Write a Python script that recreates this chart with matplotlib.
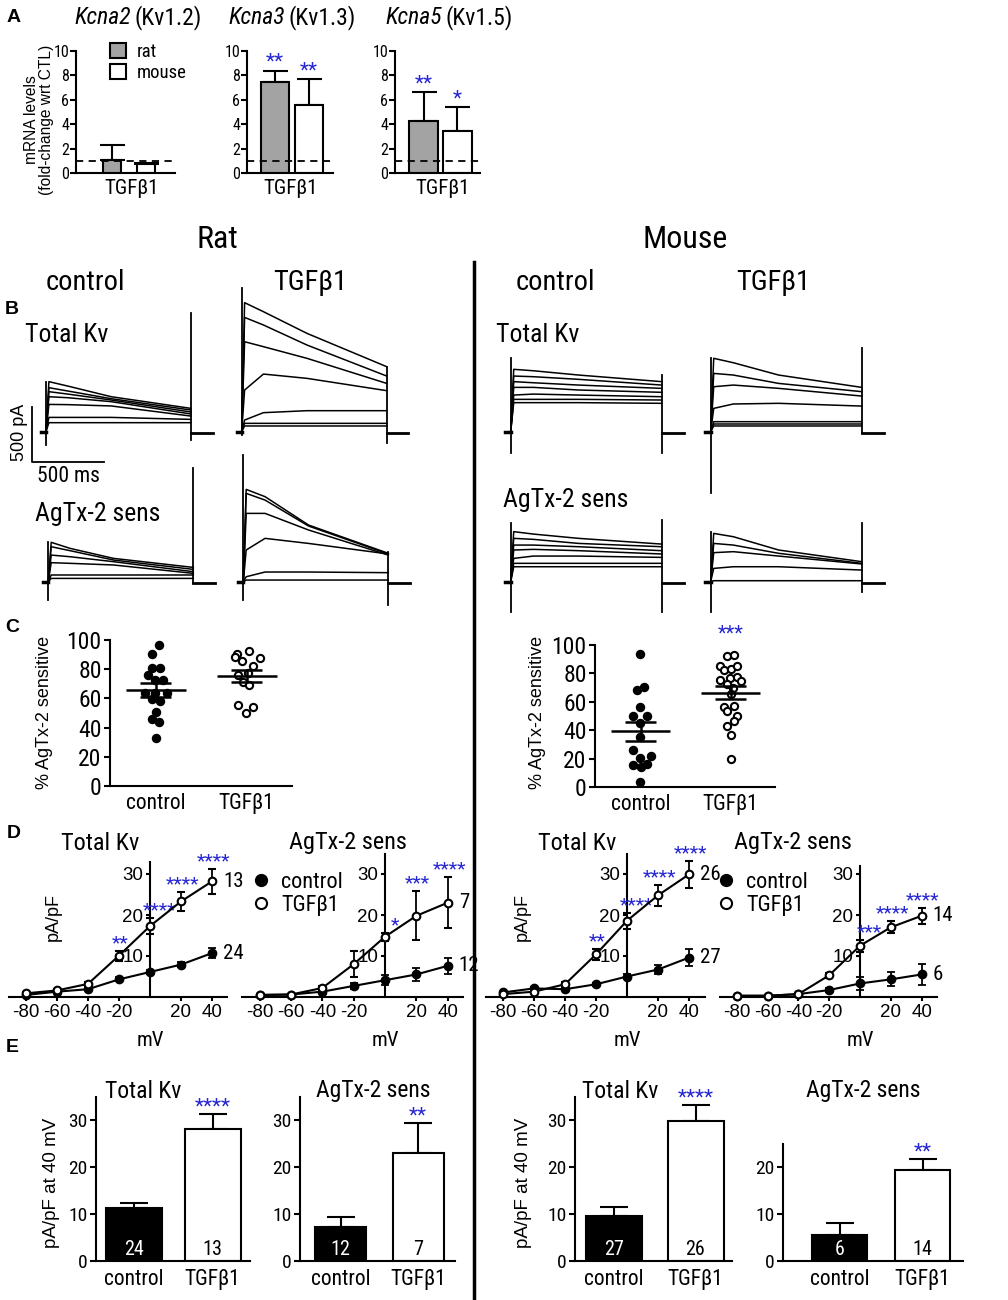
import matplotlib
matplotlib.use("Agg")
import matplotlib.pyplot as plt
from matplotlib import font_manager
from matplotlib.patches import Patch
from matplotlib.lines import Line2D


def pick_narrow():
    prefs = ['Liberation Sans Narrow', 'Arial Narrow', 'Roboto Condensed', 'Noto Sans Condensed',
             'Open Sans Condensed', 'Noto Sans', 'Roboto', 'Open Sans', 'DejaVu Sans']
    ents = font_manager.fontManager.ttflist
    for p in prefs:
        for f in ents:
            if f.name == p and f.style == 'normal':
                if 'Narrow' in p or 'Condensed' in p:
                    return p, 'normal'
                if str(f.stretch) in ('condensed', 'semi-condensed'):
                    return p, str(f.stretch)
    return None, None


REG = 'Liberation Sans'
NARROW, STRETCH = pick_narrow()
if NARROW is None:
    NARROW, STRETCH, FS = REG, 'normal', 0.87
else:
    FS = 1.0
plt.rcParams['font.family'] = [NARROW, 'DejaVu Sans']
plt.rcParams['font.stretch'] = STRETCH
plt.rcParams['axes.unicode_minus'] = False
plt.rcParams['axes.linewidth'] = 1.5
plt.rcParams['xtick.major.width'] = 1.5
plt.rcParams['ytick.major.width'] = 1.5
plt.rcParams['xtick.major.size'] = 4
plt.rcParams['ytick.major.size'] = 4
STAR = '#2626d2'

# ---------- A: mRNA fold change ----------
mrna_genes = ['Kcna2', 'Kcna3', 'Kcna5']
mrna_chan = ['(Kv1.2)', '(Kv1.3)', '(Kv1.5)']
mrna_rat = [1.07, 7.45, 4.3]
mrna_rat_err = [1.2, 0.95, 2.3]
mrna_mouse = [0.7, 5.6, 3.45]
mrna_mouse_err = [0.15, 2.1, 1.95]
mrna_rat_sig = ['', '**', '**']
mrna_mouse_sig = ['', '**', '*']

# ---------- B: current traces (pA at knot times, ms) ----------
T_KNOTS = [20, 150, 450, 1000]
rat_ctl_total = [[455, 415, 318, 212], [400, 370, 300, 197], [364, 342, 288, 179],
                 [318, 309, 273, 161], [248, 246, 234, 142], [130, 130, 130, 112], [82, 82, 82, 82]]
rat_tgf_total = [[1173, 1091, 894, 591], [1039, 970, 788, 506], [818, 773, 667, 439],
                 [379, 524, 485, 373], [106, 173, 191, 191], [76, 76, 76, 76], [52, 52, 52, 52]]
rat_ctl_agtx = [[358, 303, 212, 130], [318, 282, 197, 112], [242, 227, 182, 91],
                [173, 167, 152, 76], [61, 61, 61, 61], [30, 30, 30, 30]]
rat_tgf_agtx = [[839, 773, 515, 258], [803, 742, 506, 252], [621, 621, 470, 242],
                [288, 394, 348, 252], [45, 88, 88, 82], [15, 15, 15, 15]]
mouse_ctl_total = [[567, 554, 515, 455], [506, 500, 476, 424], [455, 445, 424, 394],
                   [403, 403, 379, 358], [333, 342, 333, 318], [294, 294, 294, 288], [264, 264, 264, 258]]
mouse_tgf_total = [[667, 627, 515, 403], [530, 515, 439, 364], [409, 424, 394, 324],
                   [212, 252, 258, 233], [91, 91, 91, 91], [70, 70, 70, 70], [52, 52, 52, 52]]
mouse_ctl_agtx = [[455, 433, 394, 342], [394, 385, 348, 318], [333, 333, 318, 282],
                  [288, 294, 282, 252], [212, 233, 233, 221], [167, 167, 167, 167], [136, 136, 136, 136]]
mouse_tgf_agtx = [[439, 409, 288, 182], [348, 333, 258, 167], [264, 273, 233, 161],
                  [121, 136, 136, 106], [9, 9, 9, 9]]
# capacitive transients (top, bottom) at onset and offset
spk_rat_ctl_total = [(455, -121), (1076, -76)]
spk_rat_tgf_total = [(1304, -30), (590, -106)]
spk_rat_ctl_agtx = [(364, -167), (1030, -15)]
spk_rat_tgf_agtx = [(1150, -167), (273, -212)]
spk_mouse_ctl_total = [(667, -197), (515, -197)]
spk_mouse_tgf_total = [(667, -560), (758, -15)]
spk_mouse_ctl_agtx = [(530, -273), (560, -273)]
spk_mouse_tgf_agtx = [(455, -273), (530, -91)]
TAIL_PA = -10

# ---------- C: % AgTx-2 sensitive ----------
c_rat_ctl = [96.6, 90.4, 80.6, 80.6, 76, 72.6, 72.6, 63.5, 63.5, 63.5, 59.3, 58.4, 50.9, 45.7, 43.5, 33.1]
c_rat_ctl_dx = [0.04, -0.044, -0.044, 0.048, -0.081, -0.007, 0.084, -0.117, -0.007, 0.121,
                -0.044, 0.048, 0.004, -0.044, 0.04, 0.004]
c_rat_tgf = [92.7, 90.4, 88.1, 85.8, 87.4, 82.4, 76, 77.2, 71.5, 69.2, 55.5, 54.4, 50.2]
c_rat_tgf_dx = [0.029, -0.103, -0.128, -0.055, 0.147, 0.066, -0.092, 0.018, -0.044, 0.029,
                -0.092, 0.066, -0.011]
c_mouse_ctl = [93.6, 68.3, 70.1, 56.5, 49.9, 49.9, 45.2, 35.3, 25.9, 20.7, 21.6, 15.3, 14.1, 16.4, 3.5]
c_mouse_ctl_dx = [-0.007, -0.044, 0.037, -0.007, -0.081, 0.074, -0.007, -0.007, -0.081, -0.007,
                  0.111, -0.081, 0.0, 0.074, -0.007]
c_mouse_tgf = [92.1, 92.8, 85, 82.7, 83.4, 85, 75.3, 76.5, 77.2, 74.8, 72.4, 69.4, 65.8,
               56, 53.6, 57, 49.9, 46.6, 42.8, 36.4, 19.5]
c_mouse_tgf_dx = [-0.044, 0.037, -0.119, -0.074, 0.0, 0.074, -0.119, -0.007, 0.074, 0.111,
                  -0.044, 0.03, 0.0, -0.074, -0.037, 0.037, 0.074, 0.037, -0.044, 0.0, 0.0]
c_rat_mean = [65.8, 75.3]
c_rat_sem = [4.8, 4.0]
c_mouse_mean = [39.3, 66.4]
c_mouse_sem = [6.7, 4.6]

# ---------- D: I-V curves ----------
mv = [-80, -60, -40, -20, 0, 20, 40]
iv_rat_total_ctl = [0.5, 1.3, 1.9, 4.3, 6.1, 7.9, 10.7]
iv_rat_total_ctl_err = [0.2, 0.2, 0.3, 0.5, 0.6, 0.7, 1.2]
iv_rat_total_tgf = [0.9, 1.6, 3.2, 10.1, 17.3, 23.3, 28.2]
iv_rat_total_tgf_err = [0.2, 0.3, 0.5, 1.2, 2.0, 2.3, 3.0]
iv_rat_total_sig = ['', '', '', '**', '****', '****', '****']
iv_rat_agtx_ctl = [0.5, 0.6, 1.3, 2.7, 4.1, 5.5, 7.6]
iv_rat_agtx_ctl_err = [0.2, 0.2, 0.3, 0.8, 1.2, 1.5, 2.0]
iv_rat_agtx_tgf = [0.5, 0.6, 2.2, 8.0, 14.7, 19.8, 23.0]
iv_rat_agtx_tgf_err = [0.2, 0.2, 0.5, 3.2, 1.0, 6.0, 6.2]
iv_rat_agtx_sig = ['', '', '', '', '*', '***', '****']
iv_mouse_total_ctl = [1.1, 2.1, 1.9, 3.1, 5.0, 6.7, 9.6]
iv_mouse_total_ctl_err = [0.2, 0.3, 0.3, 0.4, 0.6, 1.2, 2.0]
iv_mouse_total_tgf = [0.7, 1.3, 3.1, 10.4, 18.6, 24.8, 29.9]
iv_mouse_total_tgf_err = [0.2, 0.3, 0.5, 1.3, 2.0, 2.5, 3.3]
iv_mouse_total_sig = ['', '', '', '**', '****', '****', '****']
iv_mouse_agtx_ctl = [0.3, 0.3, 0.7, 1.7, 3.3, 4.3, 5.5]
iv_mouse_agtx_ctl_err = [0.1, 0.1, 0.2, 0.4, 1.5, 1.7, 2.5]
iv_mouse_agtx_tgf = [0.3, 0.3, 0.7, 5.3, 12.5, 17.0, 19.8]
iv_mouse_agtx_tgf_err = [0.1, 0.1, 0.2, 0.6, 1.5, 1.5, 2.0]
iv_mouse_agtx_sig = ['', '', '', '', '***', '****', '****']
n_rat = {'total': (24, 13), 'agtx': (12, 7)}
n_mouse = {'total': (27, 26), 'agtx': (6, 14)}

# ---------- E: current density at +40 mV ----------
groups = ['control', 'TGFβ1']
e_rat_total = [11.3, 28.1]
e_rat_total_err = [1.0, 3.2]
e_rat_agtx = [7.3, 23.0]
e_rat_agtx_err = [2.1, 6.4]
e_mouse_total = [9.6, 29.8]
e_mouse_total_err = [1.9, 3.4]
e_mouse_agtx = [5.5, 19.4]
e_mouse_agtx_err = [2.5, 2.3]
e_sig = ['****', '**', '****', '**']

# =====================================================================
W, H = 1008, 1300
fig = plt.figure(figsize=(W / 100, H / 100), dpi=100)


def rect(l, t, r, b):
    return [l / W, 1 - b / H, (r - l) / W, (b - t) / H]


def new_ax(box):
    ax = fig.add_axes(box)
    ax.patch.set_visible(False)
    return ax


ov = fig.add_axes([0, 0, 1, 1], zorder=5)
ov.set_xlim(0, W)
ov.set_ylim(H, 0)
ov.axis('off')


def txt(x, y, s, size, **kw):
    kw.setdefault('ha', 'center')
    kw.setdefault('va', 'center')
    ov.text(x, y, s, fontsize=size, **kw)


def clean(ax):
    for sp in ['top', 'right']:
        ax.spines[sp].set_visible(False)


# ---------------- A ----------------
A_POS = [(76, 175, 112, 146, 18), (247, 333, 275, 309, 28), (395, 480, 423.5, 457, 29)]
A_TITLE_X = [133, 287, 444]
A_LABEL_X = [132, 291, 443]
for i, (l, r, c0, c1, w) in enumerate(A_POS):
    s = c1 - c0
    ax = new_ax(rect(l, 51, r, 173))
    clean(ax)
    ax.set_xlim((l - c0) / s, (r - c0) / s)
    ax.set_ylim(0, 10)
    vals = [mrna_rat[i], mrna_mouse[i]]
    errs = [mrna_rat_err[i], mrna_mouse_err[i]]
    ax.errorbar([0, 1], vals, yerr=[[0, 0], errs], fmt='none', ecolor='black',
                elinewidth=1.5, capsize=9, capthick=1.5, zorder=1)
    ax.bar([0, 1], vals, width=w / s, color=['#a3a3a3', 'white'], edgecolor='black',
           linewidth=1.5, zorder=2)
    ax.axhline(1, color='black', ls=(0, (4, 3)), lw=1.3, zorder=3)
    for k, sg in enumerate([mrna_rat_sig[i], mrna_mouse_sig[i]]):
        if sg:
            ax.annotate(sg, (k, vals[k] + errs[k]), xytext=(0, -1), textcoords='offset points',
                        ha='center', va='bottom', color=STAR, fontsize=15 * FS)
    ax.set_xticks([])
    ax.set_yticks(range(0, 11, 2))
    ax.tick_params(axis='y', labelsize=11.5 * FS, length=4, pad=1)
    txt(A_TITLE_X[i] - 1.5, 18, mrna_genes[i], 17 * FS, ha='right', style='italic')
    txt(A_TITLE_X[i] + 1.5, 18, mrna_chan[i], 17 * FS, ha='left')
    txt(A_LABEL_X[i], 189, 'TGFβ1', 15 * FS)
    if i == 0:
        ax.legend(handles=[Patch(facecolor='#a3a3a3', edgecolor='black', lw=1.5, label='rat'),
                           Patch(facecolor='white', edgecolor='black', lw=1.5, label='mouse')],
                  loc='upper left', bbox_to_anchor=(110 / W, 1 - 43 / H), bbox_transform=fig.transFigure,
                  frameon=False, fontsize=13.5 * FS, handlelength=0.85, handleheight=0.85,
                  handletextpad=0.6, labelspacing=0.15, borderpad=0, borderaxespad=0)
txt(39, 120, 'mRNA levels\n(fold-change wrt CTL)', 11.2, rotation=90, family=REG, linespacing=1.0)
txt(14, 18, 'A', 14, family=REG, weight='bold')

# ---------------- headers ----------------
txt(217, 240, 'Rat', 23 * FS)
txt(685, 240, 'Mouse', 23 * FS)
for x, s in [(85, 'control'), (310, 'TGFβ1'), (555, 'control'), (773, 'TGFβ1')]:
    txt(x, 283, s, 20.5 * FS)
txt(12, 310, 'B', 14, family=REG, weight='bold')
txt(25, 335, 'Total Kv', 18.5 * FS, ha='left')
txt(496, 335, 'Total Kv', 18.5 * FS, ha='left')
txt(35, 514, 'AgTx-2 sens', 18.5 * FS, ha='left')
txt(503, 500, 'AgTx-2 sens', 18.5 * FS, ha='left')
ov.plot([474, 474], [262, 1300], color='black', lw=2.5)

# ---------------- B traces ----------------
SY = 0.11


def trace_panel(x0, y0, sx, traces, spikes):
    ax = new_ax(rect(x0 - 200 * sx, y0 - 1500 * SY, x0 + 1250 * sx, y0 + 700 * SY))
    ax.set_xlim(-200, 1250)
    ax.set_ylim(-700, 1500)
    ax.axis('off')
    for tr in traces:
        ax.plot([0] + T_KNOTS, [0] + list(tr), color='black', lw=1.1)
    ax.plot([-35, 0], [0, 0], color='black', lw=2.5)
    ax.plot([T_KNOTS[-1], T_KNOTS[-1] + 150], [TAIL_PA, TAIL_PA], color='black', lw=2)
    (on_t, on_b), (off_t, off_b) = spikes
    ax.plot([0, 0], [on_b, on_t], color='black', lw=1.3)
    ax.plot([T_KNOTS[-1]] * 2, [off_b, off_t], color='black', lw=1.3)
    return ax


axb = trace_panel(46, 431.7, 0.145, rat_ctl_total, spk_rat_ctl_total)
axb.plot([-97, -97, 403], [225, -275, -275], color='black', lw=1.3)
trace_panel(241.7, 431.7, 0.145, rat_tgf_total, spk_rat_tgf_total)
trace_panel(48.3, 581.7, 0.145, rat_ctl_agtx, spk_rat_ctl_agtx)
trace_panel(243.3, 581.7, 0.145, rat_tgf_agtx, spk_rat_tgf_agtx)
trace_panel(510.7, 431.7, 0.151, mouse_ctl_total, spk_mouse_ctl_total)
trace_panel(710.7, 431.7, 0.151, mouse_tgf_total, spk_mouse_tgf_total)
trace_panel(510.7, 581.7, 0.151, mouse_ctl_agtx, spk_mouse_ctl_agtx)
trace_panel(710.7, 581.7, 0.151, mouse_tgf_agtx, spk_mouse_tgf_agtx)
txt(20, 432, '500 pA', 13, rotation=90, family=REG)
txt(68, 476, '500 ms', 15.5 * FS)

# ---------------- C ----------------


def scatter_panel(l, t, r, b, c0, sp, ctl, ctl_dx, tgf, tgf_dx, means, sems, sig):
    ax = new_ax(rect(l, t, r, b))
    clean(ax)
    ax.set_xlim((l - c0) / sp, (r - c0) / sp)
    ax.set_ylim(0, 100)
    ax.plot(ctl_dx, ctl, 'o', color='black', ms=5.8, clip_on=False, zorder=3)
    ax.plot([1 + d for d in tgf_dx], tgf, 'o', mfc='white', mec='black', mew=1.5, ms=5.2,
            clip_on=False, zorder=3)
    for k in range(2):
        ax.hlines(means[k], k - 0.33, k + 0.33, color='black', lw=1.8, zorder=4)
        ax.hlines([means[k] - sems[k], means[k] + sems[k]], k - 0.17, k + 0.17, color='black',
                  lw=1.8, zorder=4)
        ax.vlines(k, means[k] - sems[k], means[k] + sems[k], color='black', lw=1.8, zorder=4)
    if sig:
        ax.text(1, 101, sig, ha='center', va='bottom', color=STAR, fontsize=14.5 * FS, clip_on=False)
    ax.set_xticks([0, 1])
    ax.set_xticklabels(groups)
    ax.tick_params(axis='x', length=0, labelsize=15.5 * FS, pad=5)
    ax.set_yticks(range(0, 101, 20))
    ax.tick_params(axis='y', labelsize=17 * FS, pad=2)
    return ax


scatter_panel(110, 640, 292, 786, 155.7, 91, c_rat_ctl, c_rat_ctl_dx, c_rat_tgf, c_rat_tgf_dx,
              c_rat_mean, c_rat_sem, '')
scatter_panel(595, 645, 775, 787, 640.7, 90, c_mouse_ctl, c_mouse_ctl_dx, c_mouse_tgf, c_mouse_tgf_dx,
              c_mouse_mean, c_mouse_sem, '***')
txt(12, 628, 'C', 14, family=REG, weight='bold')
txt(45, 712, '% AgTx-2 sensitive', 13, rotation=90, family=REG)
txt(537, 712, '% AgTx-2 sensitive', 13, rotation=90, family=REG)

# ---------------- D ----------------
PPU_D = 4.1


def iv_panel(zero_x, ytop, ctl, ctl_err, tgf, tgf_err, sig, ns, title, tx, ppm=1.55, y0=997):
    ax = new_ax(rect(zero_x - 91 * ppm, y0 - ytop * PPU_D, zero_x + 50 * ppm, y0 + 1.5 * PPU_D))
    clean(ax)
    ax.set_xlim(-91, 50)
    ax.set_ylim(-1.5, ytop)
    ax.spines['left'].set_position(('data', 0))
    ax.spines['bottom'].set_position(('data', 0))
    ax.spines['left'].set_bounds(0, ytop)
    ax.errorbar(mv, ctl, yerr=ctl_err, fmt='-o', color='black', ms=6, lw=1.5,
                capsize=3, elinewidth=1.3, capthick=1.3, zorder=3)
    ax.errorbar(mv, tgf, yerr=tgf_err, fmt='-o', color='black', mfc='white', mec='black',
                mew=1.5, ms=5.5, lw=1.5, capsize=3, elinewidth=1.3, capthick=1.3, zorder=4)
    for k, sg in enumerate(sig):
        if sg:
            dx = 7 if mv[k] == 0 else 1
            ax.annotate(sg, (mv[k], tgf[k] + tgf_err[k]), xytext=(dx, -1), textcoords='offset points',
                        ha='center', va='bottom', color=STAR, fontsize=14 * FS, annotation_clip=False)
    ax.annotate(str(ns[0]), (mv[-1], ctl[-1]), xytext=(8, 0), textcoords='offset points',
                ha='left', va='center', fontsize=15 * FS, annotation_clip=False)
    ax.annotate(str(ns[1]), (mv[-1], tgf[-1]), xytext=(8, 0), textcoords='offset points',
                ha='left', va='center', fontsize=15 * FS, annotation_clip=False)
    ax.annotate('mV', (0, 0), xytext=(0, -31), textcoords='offset points',
                ha='center', va='center', fontsize=15 * FS, annotation_clip=False)
    ax.set_xticks([-80, -60, -40, -20, 20, 40])
    ax.set_yticks([10, 20, 30])
    ax.tick_params(axis='both', labelsize=13.5, length=3, pad=2)
    for lab in ax.get_xticklabels() + ax.get_yticklabels():
        lab.set_family(REG)
    txt(tx, 843, title, 17.5 * FS)
    return ax


axd1 = iv_panel(150, 33, iv_rat_total_ctl, iv_rat_total_ctl_err, iv_rat_total_tgf,
                iv_rat_total_tgf_err, iv_rat_total_sig, n_rat['total'], 'Total Kv', 100)
iv_panel(385, 35, iv_rat_agtx_ctl, iv_rat_agtx_ctl_err, iv_rat_agtx_tgf,
         iv_rat_agtx_tgf_err, iv_rat_agtx_sig, n_rat['agtx'], 'AgTx-2 sens', 348, ppm=1.567)
axd3 = iv_panel(627, 35, iv_mouse_total_ctl, iv_mouse_total_ctl_err, iv_mouse_total_tgf,
                iv_mouse_total_tgf_err, iv_mouse_total_sig, n_mouse['total'], 'Total Kv', 577)
iv_panel(860, 32, iv_mouse_agtx_ctl, iv_mouse_agtx_ctl_err, iv_mouse_agtx_tgf,
         iv_mouse_agtx_tgf_err, iv_mouse_agtx_sig, n_mouse['agtx'], 'AgTx-2 sens', 793, ppm=1.54)
leg_handles = [Line2D([], [], marker='o', ls='none', color='black', ms=8.5, label='control'),
               Line2D([], [], marker='o', ls='none', mfc='white', mec='black', mew=1.5, ms=8,
                      label='TGFβ1')]
for ax, (lx, ly) in [(axd1, (250, 872)), (axd3, (715, 872))]:
    ax.legend(handles=leg_handles, loc='upper left', bbox_to_anchor=(lx / W, 1 - ly / H),
              bbox_transform=fig.transFigure, frameon=False, fontsize=16 * FS, handlelength=1.0,
              handletextpad=0.4, labelspacing=0.1, borderpad=0, borderaxespad=0)
txt(14, 833, 'D', 14, family=REG, weight='bold')
txt(53, 917, 'pA/pF', 13, rotation=90, family=REG)
txt(522, 917, 'pA/pF', 13, rotation=90, family=REG)

# ---------------- E ----------------
PPU_E = 4.7


def bar40_panel(l, r, c0, c1, w, ytop, yticks, vals, errs, ns, sig, title, tx, y0=1261):
    s = c1 - c0
    ax = new_ax(rect(l, y0 - ytop * PPU_E, r, y0))
    clean(ax)
    ax.set_xlim((l - c0) / s, (r - c0) / s)
    ax.set_ylim(0, ytop)
    ax.errorbar([0, 1], vals, yerr=[[0, 0], errs], fmt='none', ecolor='black',
                elinewidth=1.5, capsize=10, capthick=1.5, zorder=1)
    ax.bar([0, 1], vals, width=w / s, color=['black', 'white'], edgecolor='black', lw=1.5, zorder=2)
    for k, n in enumerate(ns):
        ax.text(k, 2.4, str(n), color=['white', 'black'][k], ha='center', va='center',
                fontsize=14.5 * FS, zorder=3)
    ax.annotate(sig, (1, vals[1] + errs[1]), xytext=(0, -2), textcoords='offset points',
                ha='center', va='bottom', color=STAR, fontsize=15 * FS)
    ax.set_xticks([0, 1])
    ax.set_xticklabels(groups)
    ax.tick_params(axis='x', length=0, labelsize=15.5 * FS, pad=6)
    ax.set_yticks(yticks)
    ax.tick_params(axis='y', labelsize=14 * FS, pad=2)
    txt(tx, 1091, title, 17 * FS)
    return ax


bar40_panel(96, 250, 134, 212.5, 56, 35, [0, 10, 20, 30], e_rat_total, e_rat_total_err,
            n_rat['total'], e_sig[0], 'Total Kv', 143)
bar40_panel(300, 455, 340.5, 418, 51, 35, [0, 10, 20, 30], e_rat_agtx, e_rat_agtx_err,
            n_rat['agtx'], e_sig[1], 'AgTx-2 sens', 373)
bar40_panel(575, 732, 614, 695.5, 56, 35, [0, 10, 20, 30], e_mouse_total, e_mouse_total_err,
            n_mouse['total'], e_sig[2], 'Total Kv', 620)
bar40_panel(783, 963, 839.5, 922.5, 55, 25, [0, 10, 20], e_mouse_agtx, e_mouse_agtx_err,
            n_mouse['agtx'], e_sig[3], 'AgTx-2 sens', 863)
txt(12, 1048, 'E', 14, family=REG, weight='bold')
txt(52, 1183, 'pA/pF at 40 mV', 13.5, rotation=90, family=REG)
txt(523, 1183, 'pA/pF at 40 mV', 13.5, rotation=90, family=REG)

fig.savefig('out.png', dpi=100)
